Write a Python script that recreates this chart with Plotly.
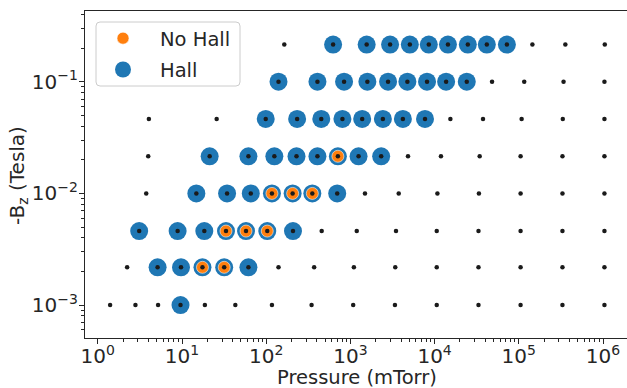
import plotly.graph_objects as go

# ---- data ----
bz_rows = [0.001, 0.00218, 0.0046, 0.01, 0.0215, 0.0464, 0.1, 0.215]

# all sampled pressures (mTorr) for each field row (black dots)
p_all_r0 = [1.4, 2.8, 5.2, 9.6, 18.7, 43, 117, 346, 1080, 3380, 10600, 33200, 105000, 330000, 1040000]
p_all_r1 = [2.23, 5.13, 9.73, 17.5, 31.7, 61.5, 140, 371, 1100, 3410, 10600, 33200, 105000, 330000, 1040000]
p_all_r2 = [3.10, 8.87, 18.4, 33.3, 57.6, 103, 208, 456, 1190, 3480, 10600, 33200, 105000, 330000, 1040000]
p_all_r3 = [3.76, 14.8, 34.3, 65.6, 117, 206, 353, 697, 1490, 3750, 10800, 33600, 105000, 330000, 1040000]
p_all_r4 = [3.97, 21.3, 61.5, 125, 229, 406, 710, 1250, 2320, 4830, 11900, 34300, 105000, 330000, 1040000]
p_all_r5 = [4.04, 25.8, 98.7, 233, 451, 804, 1380, 2430, 4200, 7690, 15400, 37600, 108000, 333000, 1040000]
p_all_r6 = [140, 406, 841, 1590, 2800, 4750, 8130, 13700, 24100, 48100, 116000, 340000, 1040000]
p_all_r7 = [164, 623, 1560, 2960, 5080, 8530, 14400, 24800, 41700, 72200, 145000, 357000, 1050000]

# pressures where the Hall effect case was run
hall_r0 = [9.6]
hall_r1 = [5.13, 9.73, 17.5, 31.7, 61.5]
hall_r2 = [3.10, 8.87, 18.4, 33.3, 57.6, 103, 208]
hall_r3 = [14.8, 34.3, 65.6, 117, 206, 353, 697]
hall_r4 = [21.3, 61.5, 125, 229, 406, 710, 1250, 2320]
hall_r5 = [98.7, 233, 451, 804, 1380, 2430, 4200, 7690]
hall_r6 = [140, 406, 841, 1590, 2800, 4750, 8130, 13700, 24100]
hall_r7 = [623, 1560, 2960, 5080, 8530, 14400, 24800, 41700, 72200]

# pressures where the no-Hall case was run
nohall_r0 = []
nohall_r1 = [17.5, 31.7]
nohall_r2 = [33.3, 57.6, 103]
nohall_r3 = [117, 206, 353]
nohall_r4 = [710]
nohall_r5 = []
nohall_r6 = []
nohall_r7 = []

x_tickvals = [1, 10, 100, 1000, 10000, 100000, 1000000]
x_ticktext = ["10<sup>0</sup>", "10<sup>1</sup>", "10<sup>2</sup>", "10<sup>3</sup>",
              "10<sup>4</sup>", "10<sup>5</sup>", "10<sup>6</sup>"]
y_tickvals = [0.001, 0.01, 0.1]
y_ticktext = ["10<sup>−3</sup>", "10<sup>−2</sup>", "10<sup>−1</sup>"]

# ---- assemble ----
p_all = [p_all_r0, p_all_r1, p_all_r2, p_all_r3, p_all_r4, p_all_r5, p_all_r6, p_all_r7]
hall = [hall_r0, hall_r1, hall_r2, hall_r3, hall_r4, hall_r5, hall_r6, hall_r7]
nohall = [nohall_r0, nohall_r1, nohall_r2, nohall_r3, nohall_r4, nohall_r5, nohall_r6, nohall_r7]

def flatten(rows):
    xs, ys = [], []
    for b, row in zip(bz_rows, rows):
        for p in row:
            xs.append(p)
            ys.append(b)
    return xs, ys

hx, hy = flatten(hall)
nx, ny = flatten(nohall)
ax_, ay_ = flatten(p_all)

TXT = "#262626"
FONT = "DejaVu Sans"

fig = go.Figure()
fig.add_trace(go.Scatter(x=hx, y=hy, mode="markers", name="Hall", legendgroup="h", legendrank=2,
                         marker=dict(color="#1f77b4", size=18, line=dict(width=0))))
fig.add_trace(go.Scatter(x=nx, y=ny, mode="markers", name="No Hall", legendgroup="n", legendrank=1,
                         marker=dict(color="#ff7f0e", size=12,
                                     line=dict(width=1, color="rgba(255,255,255,0.55)"))))
fig.add_trace(go.Scatter(x=ax_, y=ay_, mode="markers", showlegend=False,
                         marker=dict(color="#1a1a1a", size=4.5, line=dict(width=0))))

L, T, W, H = 85, 11, 542, 327
def px(x):
    return (x - L) / W
def py(y):
    return (T + H - y) / H

# rounded legend frame
x0, x1, y0, y1, r = 96, 240, 22, 86, 4
path = (f"M{px(x0 + r)},{py(y0)} L{px(x1 - r)},{py(y0)} Q{px(x1)},{py(y0)} {px(x1)},{py(y0 + r)} "
        f"L{px(x1)},{py(y1 - r)} Q{px(x1)},{py(y1)} {px(x1 - r)},{py(y1)} "
        f"L{px(x0 + r)},{py(y1)} Q{px(x0)},{py(y1)} {px(x0)},{py(y1 - r)} "
        f"L{px(x0)},{py(y0 + r)} Q{px(x0)},{py(y0)} {px(x0 + r)},{py(y0)} Z")

minor_x = [m * 10 ** e for e in range(0, 7) for m in range(2, 10)]
minor_y = [m * 10 ** e for e in range(-4, 0) for m in range(2, 10)]

fig.update_layout(
    width=627, height=388,
    margin=dict(l=L, r=0, t=T, b=388 - T - H),
    plot_bgcolor="white", paper_bgcolor="white",
    font=dict(family=FONT, size=19.5, color=TXT),
    shapes=[dict(type="path", path=path, xref="paper", yref="paper", layer="above",
                 fillcolor="rgba(255,255,255,0.8)", line=dict(color="#cccccc", width=1))],
    legend=dict(x=px(86), y=py(19), xanchor="left", yanchor="top",
                bgcolor="rgba(0,0,0,0)", borderwidth=0, itemwidth=64,
                traceorder="grouped", tracegroupgap=3,
                font=dict(family=FONT, size=19.5, color=TXT)),
    annotations=[
        dict(text="-B<sub>z</sub> (Tesla)", textangle=-90, xref="paper", yref="paper",
             x=px(18), y=py(176), xanchor="center", yanchor="middle", showarrow=False,
             font=dict(family=FONT, size=20, color=TXT)),
        dict(text="Pressure (mTorr)", xref="paper", yref="paper",
             x=px(357), y=py(377), xanchor="center", yanchor="middle", showarrow=False,
             font=dict(family=FONT, size=19.5, color=TXT)),
    ],
)
fig.update_xaxes(
    type="log", range=[-0.152, 6.285],
    showline=True, linecolor=TXT, linewidth=1.25, mirror=True,
    ticks="outside", ticklen=5, tickwidth=1.25, tickcolor=TXT,
    tickmode="array", tickvals=x_tickvals, ticktext=x_ticktext,
    ticklabelstandoff=-5, tickfont=dict(family=FONT, size=20, color=TXT),
    showgrid=False, zeroline=False,
    minor=dict(ticks="outside", ticklen=3, tickwidth=1, tickcolor=TXT,
               tickmode="array", tickvals=minor_x, showgrid=False),
)
fig.update_yaxes(
    type="log", range=[-3.2945, -0.367],
    showline=True, linecolor=TXT, linewidth=1.25, mirror=False,
    ticks="outside", ticklen=5, tickwidth=1.25, tickcolor=TXT,
    tickmode="array", tickvals=y_tickvals, ticktext=y_ticktext,
    ticklabelstandoff=-3, tickfont=dict(family=FONT, size=20, color=TXT),
    showgrid=False, zeroline=False,
    minor=dict(ticks="outside", ticklen=3, tickwidth=1, tickcolor=TXT,
               tickmode="array", tickvals=minor_y, showgrid=False),
)

fig.write_html("out.html")
